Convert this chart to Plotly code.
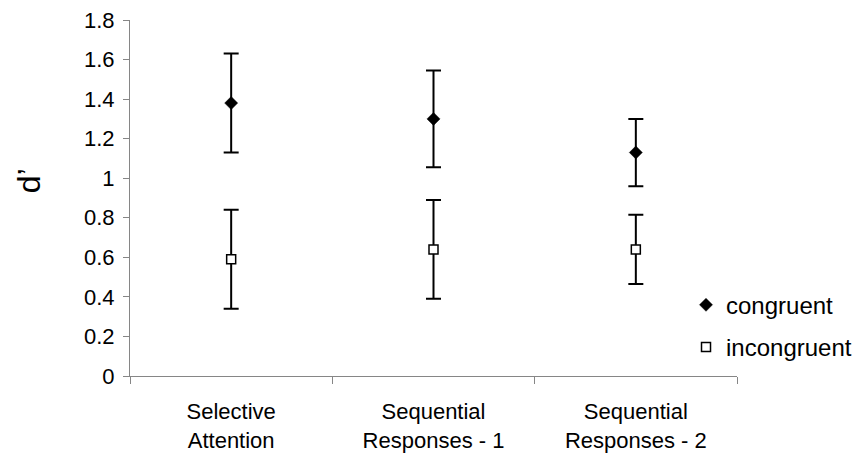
import plotly.graph_objects as go

categories = ["Selective<br>Attention", "Sequential<br>Responses - 1", "Sequential<br>Responses - 2"]
congruent = [1.38, 1.30, 1.13]
congruent_err = [0.25, 0.245, 0.17]
incongruent = [0.59, 0.64, 0.64]
incongruent_err = [0.25, 0.25, 0.175]
y_ticks = [0, 0.2, 0.4, 0.6, 0.8, 1, 1.2, 1.4, 1.6, 1.8]
y_tick_labels = ["0", "0.2", "0.4", "0.6", "0.8", "1", "1.2", "1.4", "1.6", "1.8"]
y_title = "d\u2019"

FONT = "Liberation Sans, Arial, sans-serif"
FS = 22

fig = go.Figure()

err_style = dict(type="data", visible=True, color="black", thickness=2, width=7.5)

# error bars underneath
fig.add_trace(go.Scatter(x=categories, y=congruent, mode="markers",
                         marker=dict(size=1, opacity=0), showlegend=False, hoverinfo="skip",
                         error_y=dict(array=congruent_err, **err_style)))
fig.add_trace(go.Scatter(x=categories, y=incongruent, mode="markers",
                         marker=dict(size=1, opacity=0), showlegend=False, hoverinfo="skip",
                         error_y=dict(array=incongruent_err, **err_style)))

# markers on top
fig.add_trace(go.Scatter(x=categories, y=congruent, mode="markers", name="congruent",
                         legendgroup="c",
                         marker=dict(symbol="diamond", size=10, color="black",
                                     line=dict(color="black", width=0.5))))
fig.add_trace(go.Scatter(x=categories, y=incongruent, mode="markers", name="incongruent",
                         legendgroup="i",
                         marker=dict(symbol="square", size=9, color="white",
                                     line=dict(color="black", width=1.5))))

# page body has an 8px default margin, so the figure is sized/offset to fit the window
fig.update_layout(
    width=853, height=462,
    margin=dict(l=122, r=124, t=12, b=94, autoexpand=False),
    paper_bgcolor="white", plot_bgcolor="white",
    font=dict(family=FONT, size=FS, color="black"),
    showlegend=True,
    legend=dict(x=0.916, y=0.262, xanchor="left", yanchor="top",
                traceorder="grouped", tracegroupgap=8,
                font=dict(family=FONT, size=24, color="black"),
                bgcolor="rgba(0,0,0,0)", itemwidth=30),
    xaxis=dict(
        type="category",
        showline=True, linecolor="#868686", linewidth=1,
        ticks="outside", tickson="boundaries", ticklen=7, tickcolor="#868686",
        ticklabelstandoff=16,
        showgrid=False, zeroline=False,
        tickfont=dict(family=FONT, size=FS, color="black"),
        range=[-0.5, 2.5],
    ),
    yaxis=dict(
        range=[0, 1.8],
        tickvals=y_ticks, ticktext=y_tick_labels,
        ticklabeloverflow="allow", ticklabelstandoff=4,
        showline=True, linecolor="#868686", linewidth=1,
        ticks="outside", ticklen=6, tickcolor="#868686",
        showgrid=False, zeroline=False,
        tickfont=dict(family=FONT, size=FS, color="black"),
    ),
    annotations=[dict(
        text=y_title, textangle=-90, showarrow=False,
        xref="paper", yref="paper", x=-0.166, y=0.548,
        xanchor="center", yanchor="middle",
        font=dict(family=FONT, size=32, color="black"),
    )],
)

fig.write_html("out.html")
